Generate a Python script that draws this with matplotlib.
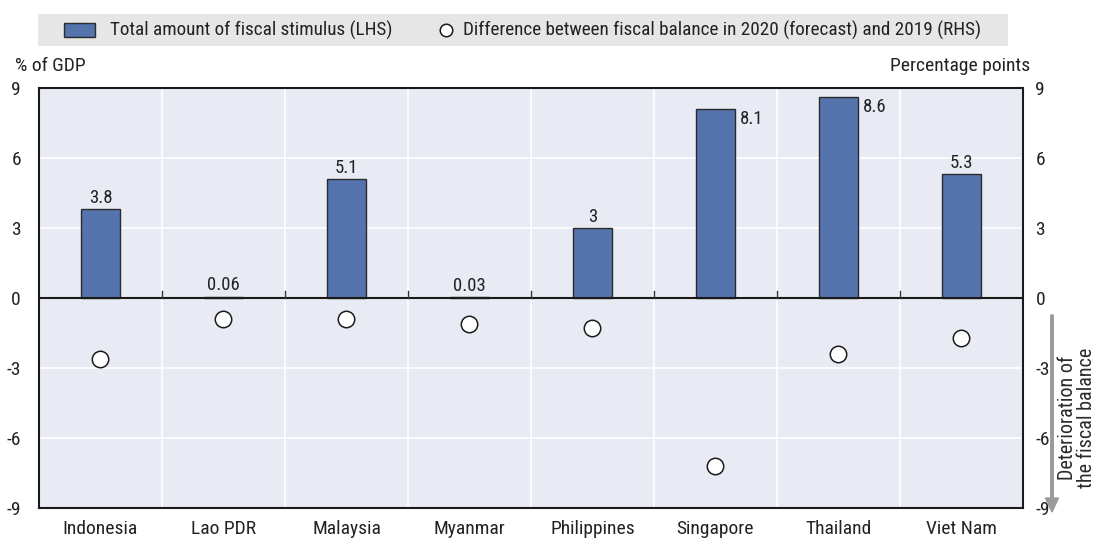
import matplotlib
matplotlib.use("Agg")
import matplotlib.pyplot as plt
import numpy as np
from matplotlib.patches import Rectangle, FancyArrow

countries = ["Indonesia", "Lao PDR", "Malaysia", "Myanmar", "Philippines", "Singapore", "Thailand", "Viet Nam"]
stimulus = [3.8, 0.06, 5.1, 0.03, 3.0, 8.1, 8.6, 5.3]
stimulus_labels = ["3.8", "0.06", "5.1", "0.03", "3", "8.1", "8.6", "5.3"]
balance_diff = [-2.6, -0.9, -0.9, -1.1, -1.3, -7.2, -2.4, -1.7]
yticks = [-9, -6, -3, 0, 3, 6, 9]

plt.rcParams['font.family'] = ['Roboto Condensed', 'DejaVu Sans']

fig = plt.figure(figsize=(10.94, 5.40), dpi=100)
ax = fig.add_axes([39/1094, 1 - 508/540, 984/1094, 420/540])
bg = "#e9ebf4"
ax.set_facecolor(bg)
x = np.arange(len(countries))
ax.set_xlim(-0.5, len(countries) - 0.5)
ax.set_ylim(-9, 9)

for b in np.arange(0.5, len(countries) - 0.5, 1):
    ax.axvline(b, color="white", lw=1.2, zorder=0)
for t in [-6, -3, 3, 6]:
    ax.axhline(t, color="white", lw=1.2, zorder=0)

bar_color = "#5573ad"
ax.bar(x, stimulus, width=0.31, color=bar_color, edgecolor="#2b2b2b", lw=1.0, zorder=3)
ax.axhline(0, color="#1a1a1a", lw=1.5, zorder=4)
for b in np.arange(0.5, len(countries) - 0.5, 1):
    ax.plot([b, b], [0, 0.3], color="#333333", lw=1.0, zorder=4)

for i, (v, lab) in enumerate(zip(stimulus, stimulus_labels)):
    if v > 7.5:
        ax.text(i + 0.2, v - 0.05, lab, ha="left", va="top", fontsize=13.5, color="#222222", zorder=5)
    else:
        ax.text(i, v + 0.1, lab, ha="center", va="bottom", fontsize=13.5, color="#222222", zorder=5)

ax2 = ax.twinx()
ax2.set_ylim(-9, 9)
ax2.scatter(x, balance_diff, s=140, facecolor="white", edgecolor="#1a1a1a", lw=1.1, zorder=6)

for a in (ax, ax2):
    for s in a.spines.values():
        s.set_visible(False)
for side in ("left", "bottom", "top"):
    ax.spines[side].set_visible(True)
    ax.spines[side].set_color("#1a1a1a")
    ax.spines[side].set_linewidth(1.5)
ax2.spines["right"].set_visible(True)
ax2.spines["right"].set_color("#1a1a1a")
ax2.spines["right"].set_linewidth(1.5)

ax.set_yticks(yticks)
ax.set_yticklabels([str(t) for t in yticks], fontsize=14, color="#222222")
ax2.set_yticks(yticks)
ax2.set_yticklabels([str(t) for t in yticks], fontsize=14, color="#222222")
ax.tick_params(axis="y", length=0, pad=13)
ax2.tick_params(axis="y", length=0, pad=9)
ax.set_xticks(x)
ax.set_xticklabels(countries, fontsize=14, color="#222222")
ax.tick_params(axis="x", length=0, pad=9)

fig.text(15/1094, 1 - 66/540, "% of GDP", fontsize=14, ha="left", va="center", color="#222222")
fig.text(1030/1094, 1 - 66/540, "Percentage points", fontsize=14, ha="right", va="center", color="#222222")

# Legend box
fig.patches.append(Rectangle((38/1094, 1 - 46/540), 970/1094, 32/540, transform=fig.transFigure,
                             facecolor="#e6e6e6", edgecolor="none", zorder=0))
fig.patches.append(Rectangle((64/1094, 1 - 37/540), 31/1094, 14/540, transform=fig.transFigure,
                             facecolor=bar_color, edgecolor="#2b2b2b", lw=1.0, zorder=1))
fig.text(110/1094, 1 - 30/540, "Total amount of fiscal stimulus (LHS)", fontsize=13.8, ha="left", va="center", color="#222222")
fig.lines.append(plt.Line2D([446/1094], [1 - 30/540], marker="o", ms=9, mfc="white", mec="#1a1a1a", mew=1.1,
                            transform=fig.transFigure))
fig.text(463/1094, 1 - 30/540, "Difference between fiscal balance in 2020 (forecast) and 2019 (RHS)", fontsize=13.8,
         ha="left", va="center", color="#222222")

# Deterioration arrow
fig.patches.append(FancyArrow(1052/1094, 1 - 315/540, 0, -(197/540), width=2.5/1094,
                              head_width=13/1094, head_length=14/540, length_includes_head=True,
                              transform=fig.transFigure, color="#9a9a9a"))
fig.text(1077/1094, 1 - 418/540, "Deterioration of\nthe fiscal balance", rotation=90, fontsize=14.5,
         ha="center", va="center", color="#2a2a2a", linespacing=1.0)

fig.savefig("out.png", dpi=100)
